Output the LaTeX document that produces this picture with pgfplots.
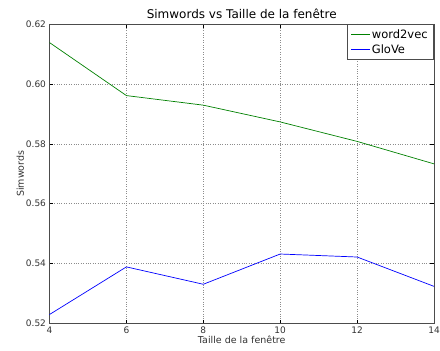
\documentclass[border=0pt]{standalone}
\usepackage{fontspec}
\setmainfont{DejaVu Sans}
\usepackage{pgfplots}
\pgfplotsset{compat=1.18}
\definecolor{mplgreen}{rgb}{0,0.5,0}
\definecolor{mplblue}{rgb}{0,0,1}
\begin{document}
\begin{tikzpicture}
\begin{axis}[
  scale only axis,
  width=384.5pt, height=299.5pt,
  xmin=4, xmax=14, ymin=0.52, ymax=0.62,
  xtick={4,6,8,10,12,14},
  ytick={0.52,0.54,0.56,0.58,0.60,0.62},
  /pgf/number format/assume math mode=true,
  yticklabel style={/pgf/number format/fixed,/pgf/number format/fixed zerofill,/pgf/number format/precision=2,font=\fontsize{9}{10}\selectfont,text=black!80},
  xticklabel style={font=\fontsize{9}{10}\selectfont,text=black!80},
  scaled y ticks=false,
  tick align=inside,
  tick style={black, line width=0.5pt},
  major tick length=4pt,
  axis line style={black!70, line width=0.9pt},
  grid=major,
  grid style={dotted, black!45, line width=0.5pt},
  title={Simwords vs Taille de la fenêtre},
  title style={font=\fontsize{12}{14}\selectfont, yshift=-4pt},
  xlabel={Taille de la fenêtre},
  ylabel={Simwords},
  xlabel style={font=\fontsize{9.5}{11}\selectfont, yshift=5pt, text=black!80},
  ylabel style={font=\fontsize{9.5}{11}\selectfont, yshift=-5pt, text=black!80},
  legend style={at={(1,1)}, anchor=north east, font=\fontsize{11.5}{13}\selectfont, draw=black!70, line width=0.7pt, inner xsep=4pt, inner ysep=3pt, row sep=1pt, cells={anchor=west}},
  legend cell align=left,
  legend image code/.code={\draw[#1, line width=0.5pt] (0cm,0cm) -- (0.65cm,0cm);},
]
\addplot[mplgreen, line width=0.7pt] coordinates {(4,0.6138) (6,0.5961) (8,0.5929) (10,0.5873) (12,0.5808) (14,0.5733)};
\addlegendentry{word2vec}
\addplot[mplblue, line width=0.7pt] coordinates {(4,0.5230) (6,0.5389) (8,0.5331) (10,0.5432) (12,0.5422) (14,0.5324)};
\addlegendentry{GloVe}
\path (rel axis cs:0,0) ++(-49.5pt,-26.5pt) coordinate (bbsw);
\path (rel axis cs:1,1) ++(6pt,24pt) coordinate (bbne);
\end{axis}
\pgfresetboundingbox
\path (bbsw) rectangle (bbne);
\end{tikzpicture}
\end{document}
